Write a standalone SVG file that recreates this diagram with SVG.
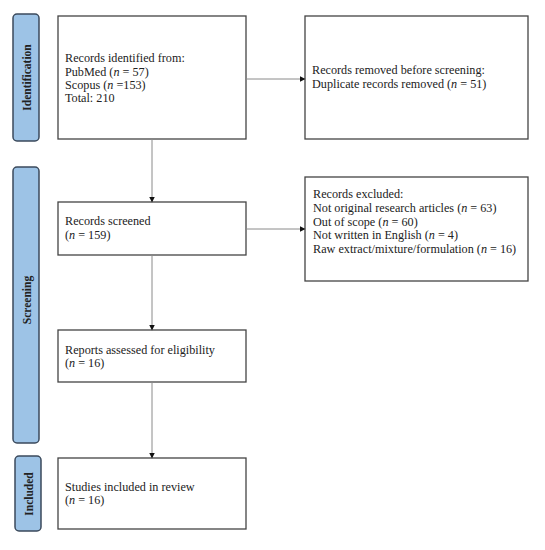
<svg xmlns="http://www.w3.org/2000/svg" width="545" height="550" viewBox="0 0 545 550">
<defs>
<marker id="ah" markerWidth="6" markerHeight="6" refX="5" refY="3" orient="auto" markerUnits="userSpaceOnUse">
<path d="M0,0 L6,3 L0,6 Z" fill="#111"/>
</marker>
<style>
.box{fill:#fff;stroke:#444;stroke-width:1.3}
.tab{fill:#9dc3e6;stroke:#3b4a5c;stroke-width:1.5}
.t{font-family:"Liberation Serif",serif;font-size:12.2px;fill:#222}
.tl{font-family:"Liberation Serif",serif;font-size:11.5px;font-weight:bold;fill:#222;text-anchor:middle}
.c{stroke:#8a8a8a;stroke-width:1;fill:none;marker-end:url(#ah)}
</style>
</defs>
<rect width="545" height="550" fill="#fff"/>
<g id="tab-identification">
<rect class="tab" x="13" y="14" width="26" height="127" rx="4"/>
<text class="tl" transform="translate(31,77.5) rotate(-90)">Identification</text>
</g>
<g id="tab-screening">
<rect class="tab" x="13" y="167" width="26" height="276" rx="4"/>
<text class="tl" transform="translate(31,300) rotate(-90)">Screening</text>
</g>
<g id="tab-included">
<rect class="tab" x="15" y="456" width="26" height="75" rx="4"/>
<text class="tl" transform="translate(33,494) rotate(-90)">Included</text>
</g>
<g id="identified">
<rect class="box" x="58" y="16" width="188" height="123"/>
<text class="t" x="65" y="62">Records identified from:</text>
<text class="t" x="65" y="75.5">PubMed (<tspan font-style="italic">n</tspan> = 57)</text>
<text class="t" x="65" y="88.5">Scopus (<tspan font-style="italic">n</tspan> =153)</text>
<text class="t" x="65" y="101.5">Total: 210</text>
</g>
<g id="removed">
<rect class="box" x="305" y="16" width="223" height="123"/>
<text class="t" x="312" y="74">Records removed before screening:</text>
<text class="t" x="312" y="87.5">Duplicate records removed  (<tspan font-style="italic">n</tspan> = 51)</text>
</g>
<g id="screened">
<rect class="box" x="58" y="202" width="188" height="53"/>
<text class="t" x="65" y="225">Records screened</text>
<text class="t" x="65" y="239">(<tspan font-style="italic">n</tspan> = 159)</text>
</g>
<g id="excluded">
<rect class="box" x="305" y="177" width="223" height="104"/>
<text class="t" x="313" y="198">Records excluded:</text>
<text class="t" x="313" y="212">Not original research articles (<tspan font-style="italic">n</tspan> = 63)</text>
<text class="t" x="313" y="225.5">Out of scope (<tspan font-style="italic">n</tspan> = 60)</text>
<text class="t" x="313" y="239">Not written in English (<tspan font-style="italic">n</tspan> = 4)</text>
<text class="t" x="313" y="252.5">Raw extract/mixture/formulation (<tspan font-style="italic">n</tspan> = 16)</text>
</g>
<g id="assessed">
<rect class="box" x="58" y="330" width="188" height="52"/>
<text class="t" x="65" y="354">Reports assessed for eligibility</text>
<text class="t" x="65" y="367">(<tspan font-style="italic">n</tspan> = 16)</text>
</g>
<g id="included">
<rect class="box" x="58" y="458" width="188" height="71"/>
<text class="t" x="65" y="491">Studies included in review</text>
<text class="t" x="65" y="504">(<tspan font-style="italic">n</tspan> = 16)</text>
</g>
<g id="connectors">
<line class="c" x1="152" y1="139" x2="152" y2="201.5"/>
<line class="c" x1="246" y1="79" x2="304.5" y2="79"/>
<line class="c" x1="152" y1="255" x2="152" y2="329.5"/>
<line class="c" x1="246" y1="229" x2="304.5" y2="229"/>
<line class="c" x1="152" y1="382" x2="152" y2="457.5"/>
</g>
</svg>
